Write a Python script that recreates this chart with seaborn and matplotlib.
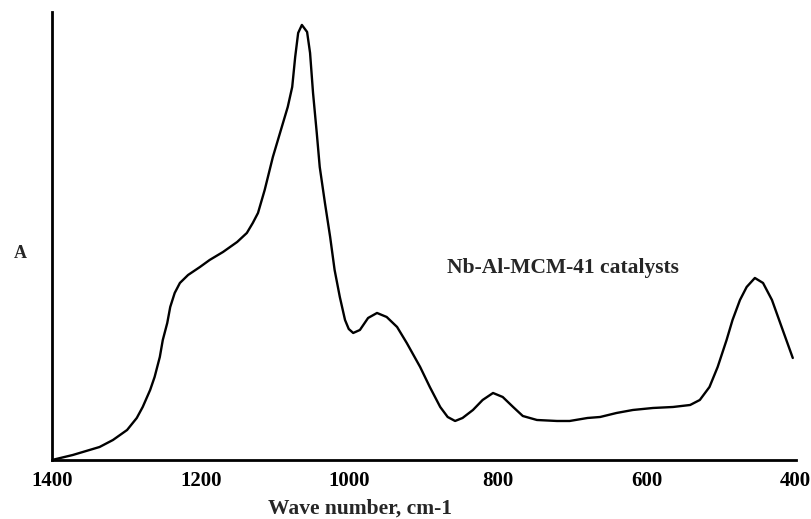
import numpy as np
import pandas as pd
import seaborn as sns
import matplotlib.pyplot as plt
from matplotlib.ticker import MultipleLocator

# IR spectrum (wave number in cm-1, absorbance in arbitrary units)
wavenumber = [1400, 1372, 1336, 1318, 1299, 1286, 1278, 1268, 1262, 1255, 1251, 1245,
              1241, 1235, 1228, 1217, 1201, 1188, 1170, 1151, 1138, 1130, 1123, 1114,
              1103, 1091, 1083, 1077, 1073, 1069, 1064, 1057, 1053, 1049, 1044, 1040,
              1033, 1026, 1020, 1013, 1006, 1001, 995, 986, 975, 963, 950, 936, 923,
              905, 892, 878, 868, 858, 848, 834, 821, 807, 794, 780, 767, 748, 721,
              704, 680, 663, 641, 619, 592, 565, 542, 529, 516, 505, 493, 485, 475,
              466, 455, 444, 432, 419, 404]
absorbance = [0, 5, 13, 20, 30, 42, 53, 70, 83, 103, 120, 137,
              153, 167, 177, 185, 193, 200, 208, 218, 227, 237, 247, 270,
              303, 333, 353, 373, 403, 427, 435, 428, 407, 367, 327, 293,
              257, 223, 190, 163, 140, 131, 127, 130, 142, 147, 143, 133, 117,
              93, 73, 53, 43, 39, 42, 50, 60, 67, 63, 53, 44, 40, 39,
              39, 42, 43, 47, 50, 52, 53, 55, 60, 73, 93, 120, 140, 160,
              173, 182, 177, 160, 133, 102]
tick_values = [1400, 1200, 1000, 800, 600, 400]
tick_labels = ["1400", "1200", "1000", "800", "600", "400"]

df = pd.DataFrame({"wave": wavenumber, "A": absorbance})

sns.set_style("white")
plt.rcParams['font.family'] = ['Liberation Serif', 'DejaVu Serif']
plt.rcParams['font.weight'] = 'bold'

fig = plt.figure(figsize=(8.12, 5.19), dpi=100)
ax = fig.add_axes([0.064, 0.1137, 0.916, 0.8633])

sns.lineplot(data=df, x="wave", y="A", color="black", linewidth=1.7, sort=False, ax=ax)

ax.set_xlim(1400, 400)
ax.set_ylim(0, 448)

ax.set_xticks(tick_values)
ax.set_xticklabels(tick_labels, fontsize=15, fontweight='bold')
ax.xaxis.set_minor_locator(MultipleLocator(100))
ax.tick_params(axis='x', which='both', direction='in', length=5, width=1.5, colors='black', pad=8)
ax.set_yticks([])

for side in ['top', 'right']:
    ax.spines[side].set_visible(False)
for side in ['left', 'bottom']:
    ax.spines[side].set_color('black')
    ax.spines[side].set_linewidth(2)

ax.set_xlabel("Wave number, cm-1", fontsize=15.5, fontweight='bold')
ax.xaxis.set_label_coords(0.414, -0.087)
ax.set_ylabel("A", rotation=0, fontsize=13, fontweight='bold')
ax.yaxis.set_label_coords(-0.042, 0.442)

ax.text(869, 192, "Nb-Al-MCM-41 catalysts", fontsize=15.5, fontweight='bold',
        ha='left', va='center')

fig.savefig("out.png", dpi=100)
